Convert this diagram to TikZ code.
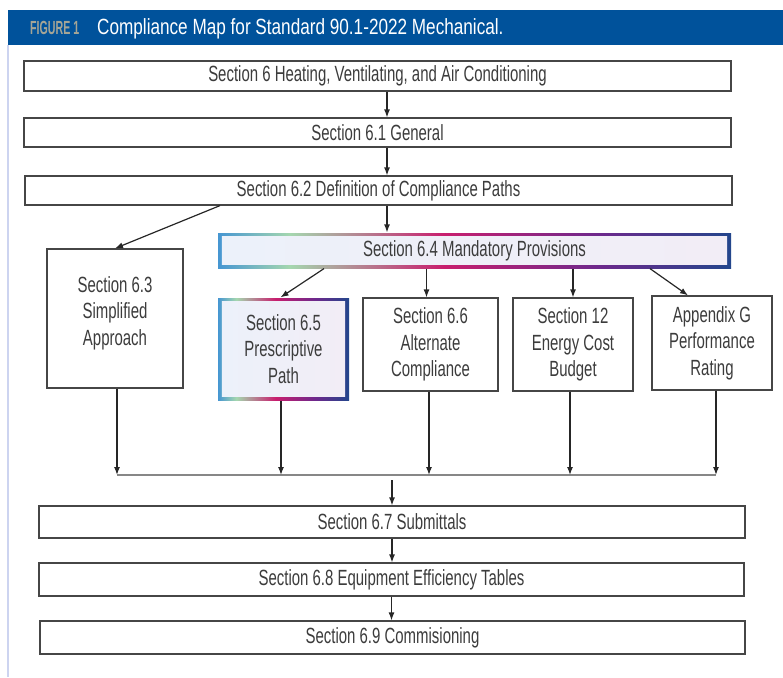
\documentclass[tikz,border=0pt]{standalone}
\usepackage{fontspec}
\setmainfont{Liberation Sans}[FakeStretch=0.68]
\newfontfamily\figfont{Liberation Sans}[FakeStretch=0.56]
\newfontfamily\titlefont{Liberation Sans}[FakeStretch=0.78]
\usepackage{xcolor}
\usepackage{tikz}
\usetikzlibrary{arrows.meta}
\definecolor{headblue}{RGB}{0,82,155}
\definecolor{figgray}{RGB}{165,165,150}
\definecolor{sideblue}{RGB}{205,212,240}
\definecolor{boxline}{RGB}{70,70,70}
\definecolor{textgray}{RGB}{60,60,60}
\definecolor{busgray}{RGB}{135,135,135}
\definecolor{edgeblue}{RGB}{70,150,210}
\definecolor{edgegreen}{RGB}{165,215,175}
\definecolor{edgemagenta}{RGB}{200,30,110}
\definecolor{edgepurple}{RGB}{110,40,140}
\definecolor{edgenavy}{RGB}{35,70,140}
\definecolor{innerleft}{RGB}{236,241,250}
\definecolor{innerright}{RGB}{242,237,246}
\pgfdeclarehorizontalshading{edgeshade}{100bp}{color(0bp)=(edgeblue); color(25bp)=(edgeblue); color(32bp)=(edgegreen); color(47bp)=(edgemagenta); color(62bp)=(edgepurple); color(75bp)=(edgenavy); color(100bp)=(edgenavy)}
\newcommand{\bodyfont}{\fontsize{22}{26.5}\selectfont}
\tikzset{
  box/.style={draw=boxline, line width=1.2pt, fill=white, text=textgray, font=\bodyfont, inner sep=0pt, align=center},
  gradbox/.style={box, draw=none, path picture={
      \shade[shading=edgeshade] (path picture bounding box.south west) rectangle (path picture bounding box.north east);
      \shade[left color=innerleft, middle color=white, right color=innerright]
        ([shift={(3.8pt,3.8pt)}]path picture bounding box.south west) rectangle ([shift={(-3.8pt,-3.8pt)}]path picture bounding box.north east);
    }},
  arr/.style={-{Latex[length=8pt,width=6pt]}, line width=1.2pt, draw=black!85}
}

\begin{document}
\begin{tikzpicture}[x=1pt,y=-1pt]
\useasboundingbox (0,0) rectangle (783,677);

% header
\fill[headblue] (8,10) rectangle (783,45);
\draw[sideblue, line width=2pt] (8,45) -- (8,677);
\node[anchor=base west, text=figgray, font=\figfont\bfseries\fontsize{19}{19}\selectfont, inner sep=0pt] (fig) at (30,35) {FIGURE 1};
\node[anchor=base west, text=white, font=\titlefont\fontsize{22}{22}\selectfont, inner sep=0pt] (title) at (97,35) {Compliance Map for Standard 90.1-2022 Mechanical.};

% top chain
\node[box, minimum width=707, minimum height=30] (b6) at (377.5,76) {Section 6 Heating, Ventilating, and Air Conditioning};
\node[box, minimum width=707, minimum height=29] (b61) at (377.5,132.5) {Section 6.1 General};
\node[box, minimum width=707, minimum height=29] (b62) at (378.5,190.5) {Section 6.2 Definition of Compliance Paths};
\node[gradbox, minimum width=513, minimum height=35] (b64) at (474.5,250.5) {Section 6.4 Mandatory Provisions};

% compliance paths
\node[box, minimum width=136, minimum height=139] (b63) at (115,318.5) {Section 6.3\\Simplified\\Approach\\[-11pt]};
\node[gradbox, minimum width=131, minimum height=102] (b65) at (283.5,349) {Section 6.5\\Prescriptive\\Path};
\node[box, minimum width=135, minimum height=93] (b66) at (430.5,344.5) {Section 6.6\\Alternate\\Compliance};
\node[box, minimum width=120, minimum height=93] (b12) at (573,344.5) {Section 12\\Energy Cost\\Budget};
\node[box, minimum width=120, minimum height=94] (bG) at (712,343) {Appendix G\\Performance\\Rating};

% bottom chain
\node[box, minimum width=706, minimum height=32] (b67) at (392,522) {Section 6.7 Submittals};
\node[box, minimum width=705, minimum height=33] (b68) at (391.5,579.5) {Section 6.8 Equipment Efficiency Tables};
\node[box, minimum width=705, minimum height=33] (b69) at (392.5,637.5) {Section 6.9 Commisioning};

\coordinate (busL) at (117,475);
\coordinate (busR) at (716,475);
\coordinate (busout) at (392,480);

\draw[arr] ([xshift=9.5pt]b6.south) -- ([xshift=9.5pt]b61.north);
\draw[arr] ([xshift=9.5pt]b61.south) -- ([xshift=8.5pt]b62.north);
\draw[arr] ([xshift=8.5pt]b62.south) -- ([xshift=8.5pt]b62.south |- b64.north);
\draw[arr] ([xshift=-158.5pt]b62.south) -- (b63.north);

\draw[arr] ([xshift=-150.5pt]b64.south) -- ([xshift=-3pt]b65.north);
\draw[arr] ([xshift=-4pt]b66.north |- b64.south) -- ([xshift=-4pt]b66.north);
\draw[arr] (b12.north |- b64.south) -- (b12.north);
\draw[arr] ([xshift=175.5pt]b64.south) -- ([xshift=-24pt]bG.north);

\draw[busgray, line width=1.2pt] (busL) -- (busR);
\draw[arr] ([xshift=2pt]b63.south) -- ([xshift=2pt]b63.south |- busL);
\draw[arr] ([xshift=-2.5pt]b65.south) -- ([xshift=-2.5pt]b65.south |- busL);
\draw[arr] ([xshift=-1.5pt]b66.south) -- ([xshift=-1.5pt]b66.south |- busL);
\draw[arr] ([xshift=-3pt]b12.south) -- ([xshift=-3pt]b12.south |- busL);
\draw[arr] ([xshift=4pt]bG.south) -- ([xshift=4pt]bG.south |- busL);
\draw[arr] (busout) -- (busout |- b67.north);

\draw[arr] (b67.south) -- (b67.south |- b68.north);
\draw[arr] (b68.south) -- (b68.south |- b69.north);
\end{tikzpicture}
\end{document}
